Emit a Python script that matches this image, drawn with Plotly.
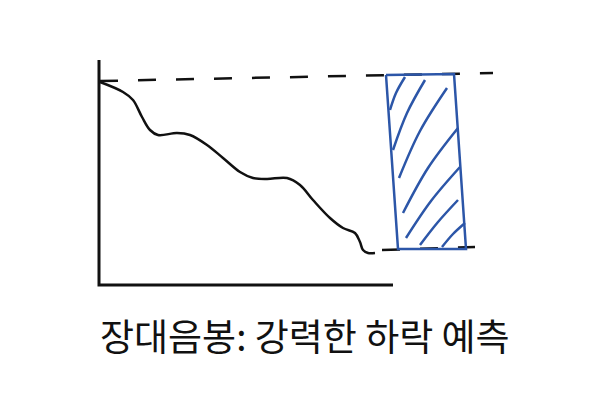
import plotly.graph_objects as go

# chart units: t = time along the x axis, p = price up the y axis
axis_t = [0, 0, 294]
axis_p = [225, 0, 0]

price_t = [1, 24, 34, 43, 51, 59, 78, 91, 108, 124, 141, 154, 168, 188, 201, 214, 231, 244, 256, 261, 264, 269, 276]
price_p = [203, 193, 185, 168, 155, 150, 152, 150, 140, 127, 113, 107, 106, 107, 100, 85, 67, 57, 52, 43, 35, 32, 32]

top_t = [1, 394]
top_p = [204, 212]
low_t = [283, 376]
low_p = [35, 38]

box_t = [287, 355, 367, 299, 287]
box_p = [210, 211, 36, 36, 210]

# hatch strokes inside the box: start, bend, end
hatch_t = [[291, 297, 306], [294, 308, 326], [300, 321, 348], [304, 329, 359],
           [307, 332, 361], [321, 339, 359], [343, 354, 366]]
hatch_p = [[175, 192, 208], [135, 172, 205], [107, 154, 197], [72, 117, 157],
           [47, 84, 118], [40, 63, 85], [38, 51, 62]]

title = "장대음봉: 강력한 하락 예측"

black = "#111111"
blue = "#2c56a8"

fig = go.Figure()
fig.add_trace(go.Scatter(x=axis_t, y=axis_p, mode="lines",
                         line=dict(color=black, width=3)))
fig.add_trace(go.Scatter(x=price_t, y=price_p, mode="lines",
                         line=dict(color=black, width=2.5, shape="spline", smoothing=1.0)))
for tt, pp in [(top_t, top_p), (low_t, low_p)]:
    fig.add_trace(go.Scatter(x=tt, y=pp, mode="lines",
                             line=dict(color=black, width=2.5, dash="18px,20px")))
fig.add_trace(go.Scatter(x=box_t, y=box_p, mode="lines",
                         line=dict(color=blue, width=2.5)))
for tt, pp in zip(hatch_t, hatch_p):
    fig.add_trace(go.Scatter(x=tt, y=pp, mode="lines",
                             line=dict(color=blue, width=2.5, shape="spline")))

fig.add_annotation(x=206, y=-50, xref="x", yref="y", text=title, showarrow=False,
                   font=dict(family="Noto Sans CJK KR", size=37, color="#111111"))

fig.update_layout(
    width=592, height=413,
    margin=dict(l=0, r=0, t=0, b=0),
    paper_bgcolor="white", plot_bgcolor="white",
    showlegend=False,
    xaxis=dict(range=[-91, 501], visible=False),
    yaxis=dict(range=[-136, 277], visible=False),
)
fig.write_html("out.html")
